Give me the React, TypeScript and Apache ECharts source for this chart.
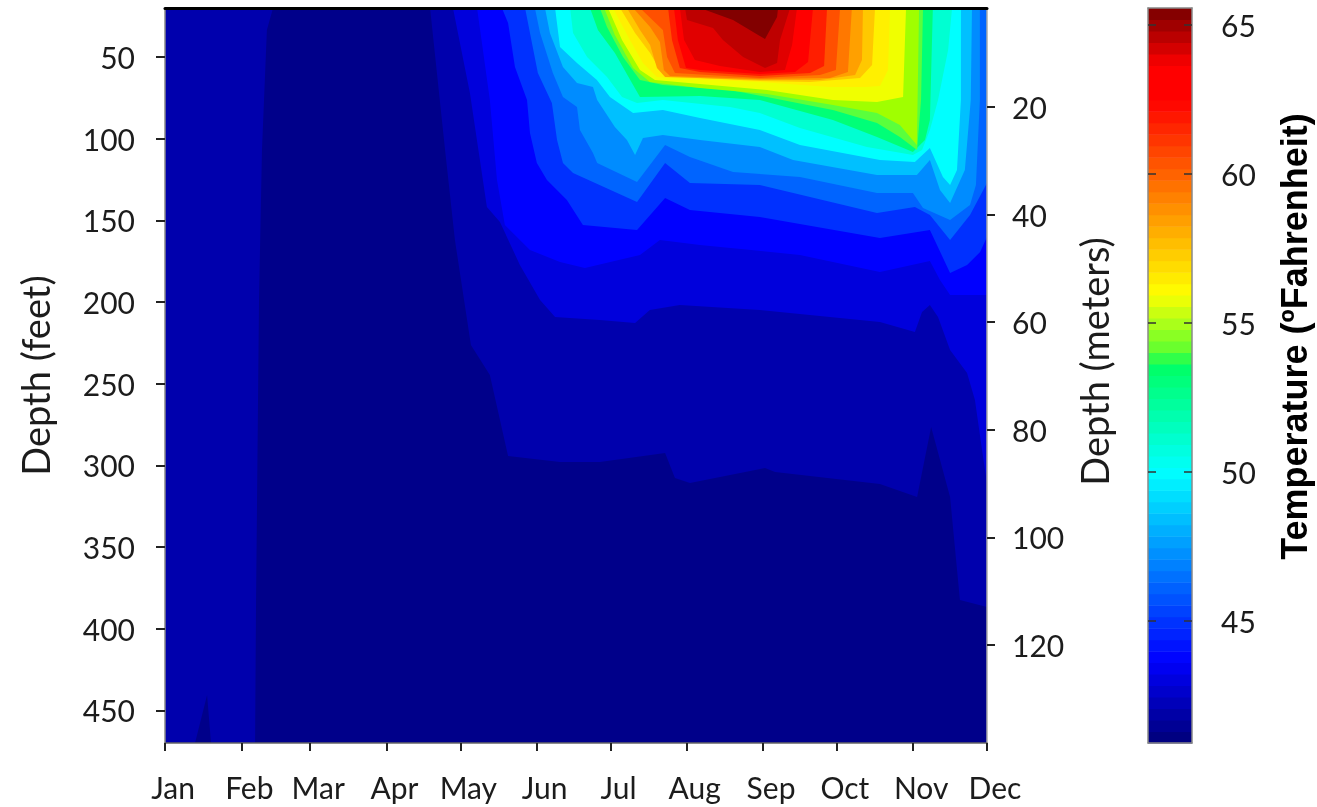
import React, { useEffect, useRef } from "react";
import * as echarts from "echarts";

// x = day of year counted from 1 Jan, y = depth in feet. Each list is the lower edge of one temperature band.
const b0 = [[0,470],[334,470]];
const b1 = [[0,470],[12.2,470],[17.1,440.6],[18.7,470],[36.6,470],[37,382.4],[38.2,198.8],[39.4,106.9],[41.4,33.5],[43.9,20],[107.7,20],[113.8,106.9],[117.8,162],[124.3,226.3],[132,244.7],[139.4,294.3],[160.5,298],[176.7,298],[203.2,292.4],[207.2,307.7],[213.3,310.8],[243.8,301.6],[247.9,304.1],[290.5,311.4],[305.6,319.4],[311.3,276.5],[319,319.4],[323,382.4],[334,386.7]];
const b2 = [[117,20],[123.9,72],[130.8,141.8],[136.1,151],[144.2,177.3],[152.4,198.8],[158.5,209.2],[176.7,211],[191,212.8],[197,204.9],[209.2,201.8],[241.7,204.9],[290.5,212.2],[304.7,218.4],[307.6,206.1],[310.8,201.8],[314.1,209.2],[319,229.4],[325.9,243.5],[329.1,260],[332.4,294.9],[334,310.8]];
const b3 = [[126.8,20],[132,76.3],[134.9,125.3],[138.1,152.8],[148.3,168.2],[160.5,175.5],[170.6,179.2],[193,171.2],[201.1,162],[217.4,165.1],[258,171.2],[290.5,181.6],[310.8,174.9],[314.9,186.5],[319,195.7],[334,195.7]];
const b4 = [[136.9,20],[139.4,29.2],[142.2,56.1],[147.1,76.3],[148.3,96.5],[151.1,114.9],[155.2,125.3],[163.3,137.5],[169.8,152.8],[191.8,155.9],[203.2,136.3],[213.3,143.7],[241.7,148],[290.5,160.8],[310.8,155.9],[319,182.2],[325.9,177.3],[331.2,169.4],[334,160.2]];
const b5 = [[146.3,20],[148.3,35.3],[151.5,59.8],[157.2,78.2],[159.3,100.8],[161.7,114.9],[165.8,121],[191.8,138.8],[203.2,114.9],[213.3,127.1],[241.7,128.4],[289.3,145.5],[304.7,141.8],[310.8,146.7],[319,162],[327.1,146.7],[334,127.1]];
const b6 = [[150.3,20],[152.4,35.3],[157.6,59.8],[161.7,74.5],[167.4,80.6],[168.6,94.7],[173.9,108.8],[175.6,114.9],[191.8,126.5],[203.2,103.9],[213.3,111.2],[230.8,120.4],[258,123.5],[289.3,133.3],[303.9,133.3],[308,142.4],[319,149.8],[327.1,140.6],[329.5,128.4],[331.1,76.3],[331.1,20]];
const b7 = [[154.4,20],[156.4,35.3],[161.7,56.1],[167.4,65.9],[173.9,68.4],[175.6,76.3],[182.8,92.9],[187.7,100.8],[191,110],[194.2,99.6],[202.3,97.8],[217.4,100.8],[241.7,105.1],[255.2,113.1],[289.3,122.2],[305.5,122.2],[310.8,113.1],[314.9,131.4],[319,139.4],[325,119.2],[327.4,76.3],[327.9,20]];
const b8 = [[158.5,20],[160.5,43.9],[167.4,53.7],[175.5,64.1],[180.8,74.5],[190.2,84.3],[202.3,82.4],[217.4,87.3],[241.7,94.7],[258,103.9],[290.5,113.1],[304.7,114.3],[310.8,105.7],[316.1,123.5],[319,128.4],[321.8,119.2],[323.4,76.3],[323.4,20]];
const b9 = [[164.6,20],[165.8,35.3],[171.5,50],[179.6,62.2],[185.7,74.5],[191.8,78.2],[202.3,76.3],[229.6,80.6],[241.7,84.3],[258,93.5],[285.2,105.1],[303.9,110],[307.6,106.9],[310.8,94.7],[314.1,76.3],[318.2,45.7],[319.8,20]];
const b10 = [[172.7,20],[175.9,33.5],[182.8,47.5],[190.2,67.1],[193,74.5],[217.4,73.9],[241.7,76.3],[271.4,88.6],[289.3,99],[303.9,108.2],[308.8,100.8],[310.8,88.6],[312,20]];
const b11 = [[176.7,20],[179.6,31.6],[186.1,50],[193,64.1],[202.3,67.1],[229.6,70.2],[244.6,74.5],[271.4,82.4],[289.3,90.4],[298.6,99],[305.6,106.9],[307.2,76.3],[308,20]];
const b12 = [[178.4,20],[182.8,36.5],[190.2,56.7],[197,65.3],[217.4,69],[244.6,72.6],[271.4,79.4],[289.3,84.3],[298.6,91.6],[305.5,103.9],[306.4,20]];
const b13 = [[180,20],[185.7,39.6],[193,58],[199.1,64.1],[217.4,66.5],[244.6,70.2],[271.4,76.3],[289.3,77.5],[299.9,74.5],[301.1,20]];
const b14 = [[182,20],[188.9,39.6],[194.2,53.7],[199.9,62.2],[204.4,62.9],[241.7,65.3],[270.2,68.4],[284.4,68.4],[290.5,67.8],[293.8,58],[294.6,20]];
const b15 = [[184.9,20],[191,35.3],[197.1,47.5],[201.1,58],[204,61],[217.4,62.9],[241.7,64.7],[262.1,65.3],[282.4,62.9],[287.3,54.9],[288.5,20]];
const b16 = [[187.7,20],[193,33.5],[197.1,42.7],[199.9,56.7],[203.2,62.2],[241.7,64.1],[266.1,64.1],[280.4,61],[283.2,51.8],[283.6,20]];
const b17 = [[190.2,20],[197.1,31.6],[201.1,40.8],[202.7,58],[205.2,61.6],[241.7,63.5],[270.2,62.9],[277.5,59.2],[279.1,20]];
const b18 = [[193,20],[202.3,33.5],[204,50],[207.2,59.8],[241.7,62.9],[266.1,61],[272.6,58],[274.3,20]];
const b19 = [[204.4,20],[206,39.6],[209.2,56.7],[217.4,59.2],[241.7,61.6],[262.1,59.8],[267.8,55.5],[269,20]];
const b20 = [[206.8,20],[208.4,39.6],[211.7,56.7],[217.4,58],[241.7,60.4],[256,59.2],[261.3,53],[263.3,20]];
const b21 = [[209.2,20],[210.9,39.6],[215.3,51.8],[225.5,55.5],[241.7,59.2],[251.9,58],[254.8,42.7],[256.8,20]];
const b22 = [[211.3,20],[212.1,27.3],[222.7,32.2],[226.7,39.6],[234.9,50],[243.8,56.7],[248.7,53.7],[249.9,39.6],[254,20]];
const b23 = [[217.4,20],[230.8,27.3],[243.8,39],[248.7,25.5],[249.1,20]];

const contours = [b0,b1,b2,b3,b4,b5,b6,b7,b8,b9,b10,b11,b12,b13,b14,b15,b16,b17,b18,b19,b20,b21,b22,b23];
const bandColors = ["#00008a","#0000ad","#0000dc","#0000ff","#0030ff","#0064ff","#008cff","#00c0ff","#00ffff","#00ffd2","#00ff78","#5aff3c","#a0ff00","#f0ff00","#fff000","#ffc800","#ffa000","#ff7800","#ff5000","#ff1e00","#ff0000","#e10000","#be0000","#820000"];

const monthNames = ["Jan","Feb","Mar","Apr","May","Jun","Jul","Aug","Sep","Oct","Nov","Dec"];
const monthDays = [0,31,59,90,120,151,181,212,243,273,304,334];
const feetTicks = [50,100,150,200,250,300,350,400,450];
const meterTicks = [20,40,60,80,100,120];
const tempTicks = [45,50,55,60,65];

// colour ramp of the colour bar, read at these temperatures
const rampTemps = [40.9,43.7,50,53.6,54,56,62.5,63.6,65.57];
const rampColors = [[0,0,120],[0,0,255],[0,255,255],[0,255,100],[90,255,50],[255,255,0],[255,0,0],[255,0,0],[120,0,0]];
const colorBarSteps = 64;

function rampColor(t: number) {
  let i = 0;
  while (i < rampTemps.length - 2 && t > rampTemps[i + 1]) i++;
  const f = Math.min(1, Math.max(0, (t - rampTemps[i]) / (rampTemps[i + 1] - rampTemps[i])));
  const c = rampColors[i].map((v, k) => Math.round(v + (rampColors[i + 1][k] - v) * f));
  return `rgb(${c[0]},${c[1]},${c[2]})`;
}

const tempMin = rampTemps[0];
const tempMax = rampTemps[rampTemps.length - 1];
const barStep = (tempMax - tempMin) / colorBarSteps;
const barBands = Array.from({ length: colorBarSteps }, (_, i) => [0, tempMin + i * barStep, tempMin + (i + 1) * barStep]);

const textColor = "#1c1c1c";
const tickColor = "#222222";
const labelFont = "Lato";

export default function App() {
  const ref = useRef<HTMLDivElement>(null);
  useEffect(() => {
    const chart = echarts.init(ref.current!, undefined, { renderer: "svg" });
    const axisLabelBase = { color: textColor, fontFamily: labelFont, fontSize: 30 };
    chart.setOption({
      animation: false,
      backgroundColor: "#ffffff",
      grid: [
        { left: 165, top: 8, width: 822, height: 735, outerBoundsMode: "none" },
        { left: 1148, top: 8, width: 44, height: 735, outerBoundsMode: "none" },
      ],
      xAxis: [
        {
          type: "value", gridIndex: 0, min: 0, max: 334, position: "bottom", z: 5,
          splitLine: { show: false },
          axisLine: { onZero: false, lineStyle: { color: "#666666", width: 1.5 } },
          axisTick: { length: 8, customValues: monthDays, lineStyle: { color: tickColor, width: 2 } },
          axisLabel: {
            ...axisLabelBase, fontSize: 30, margin: 29, padding: [0, 0, 0, 16],
            customValues: monthDays,
            formatter: (v: number) => monthNames[monthDays.indexOf(v)],
          },
        },
        {
          type: "value", gridIndex: 0, min: 0, max: 334, position: "top", z: 5,
          splitLine: { show: false }, axisTick: { show: false }, axisLabel: { show: false },
          axisLine: { onZero: false, lineStyle: { color: "#000000", width: 3 } },
        },
        {
          type: "category", gridIndex: 1, data: ["T"], position: "bottom", z: 5,
          axisTick: { show: false }, axisLabel: { show: false },
          axisLine: { onZero: false, lineStyle: { color: "#888888", width: 1.5 } },
        },
        {
          type: "category", gridIndex: 1, data: ["T"], position: "top", z: 5,
          axisTick: { show: false }, axisLabel: { show: false },
          axisLine: { onZero: false, lineStyle: { color: "#888888", width: 1.5 } },
        },
      ],
      yAxis: [
        {
          type: "value", gridIndex: 0, min: 20, max: 470, inverse: true, position: "left", z: 5,
          splitLine: { show: false },
          axisLine: { show: true, onZero: false, lineStyle: { color: "#888888", width: 1.5 } },
          axisTick: { show: true, length: 9, customValues: feetTicks, lineStyle: { color: tickColor, width: 2 } },
          axisLabel: { ...axisLabelBase, margin: 30, customValues: feetTicks },
          name: "Depth (feet)", nameLocation: "middle", nameRotate: 90, nameGap: 111,
          nameTextStyle: { color: textColor, fontFamily: labelFont, fontSize: 38 },
        },
        {
          type: "value", gridIndex: 0, min: 1.6, max: 138.2, inverse: true, position: "right", z: 5,
          splitLine: { show: false },
          axisLine: { show: true, onZero: false, lineStyle: { color: "#aaaaaa", width: 1.5 } },
          axisTick: { show: true, length: 8, customValues: meterTicks, lineStyle: { color: tickColor, width: 2 } },
          axisLabel: { ...axisLabelBase, margin: 25, customValues: meterTicks },
          name: "Depth (meters)", nameLocation: "middle", nameRotate: 90, nameGap: 88,
          nameTextStyle: { color: textColor, fontFamily: labelFont, fontSize: 38, padding: [0, 0, 0, 28] },
        },
        {
          type: "value", gridIndex: 1, min: tempMin, max: tempMax, position: "right", z: 5,
          splitLine: { show: false },
          axisLine: { show: true, onZero: false, lineStyle: { color: "#888888", width: 1.5 } },
          axisTick: { show: true, inside: true, length: 8, customValues: tempTicks, lineStyle: { color: "#333333", width: 1.5 } },
          axisLabel: { ...axisLabelBase, margin: 29, customValues: tempTicks },
          name: "Temperature (ºFahrenheit)", nameLocation: "middle", nameRotate: 90, nameGap: 84,
          nameTextStyle: { color: "#000000", fontFamily: "Liberation Sans", fontWeight: "bold", fontSize: 36, padding: [0, 0, 0, 78] },
        },
        {
          type: "value", gridIndex: 1, min: tempMin, max: tempMax, position: "left", z: 5,
          splitLine: { show: false },
          axisLine: { show: true, onZero: false, lineStyle: { color: "#888888", width: 1.5 } },
          axisTick: { show: true, inside: true, length: 8, customValues: tempTicks, lineStyle: { color: "#333333", width: 1.5 } },
          axisLabel: { show: false },
        },
      ],
      series: [
        ...contours.map((pts, i) => ({
          type: "line",
          xAxisIndex: 0,
          yAxisIndex: 0,
          data: pts,
          symbol: "none",
          silent: true,
          smooth: false,
          z: 2 + i * 0.01,
          lineStyle: { width: 0, color: bandColors[i] },
          itemStyle: { color: bandColors[i] },
          areaStyle: { color: bandColors[i], opacity: 1, origin: "start" },
        })),
        {
          type: "custom",
          xAxisIndex: 2,
          yAxisIndex: 2,
          data: barBands,
          silent: true,
          encode: { x: 0, y: [1, 2] },
          renderItem: (params: any, api: any) => {
            const hi = api.coord([0, api.value(2)]);
            const lo = api.coord([0, api.value(1)]);
            const w = api.size([1, 0])[0];
            return {
              type: "rect",
              shape: { x: hi[0] - w / 2, y: hi[1], width: w, height: lo[1] - hi[1] + 0.5 },
              style: { fill: rampColor(api.value(1) + barStep / 2) },
            };
          },
        },
      ],
    });
    return () => chart.dispose();
  }, []);
  return (
    <div
      ref={ref}
      style={{ position: "fixed", left: 0, top: 0, width: 1317, height: 807, filter: "blur(0.7px)" }}
    />
  );
}
